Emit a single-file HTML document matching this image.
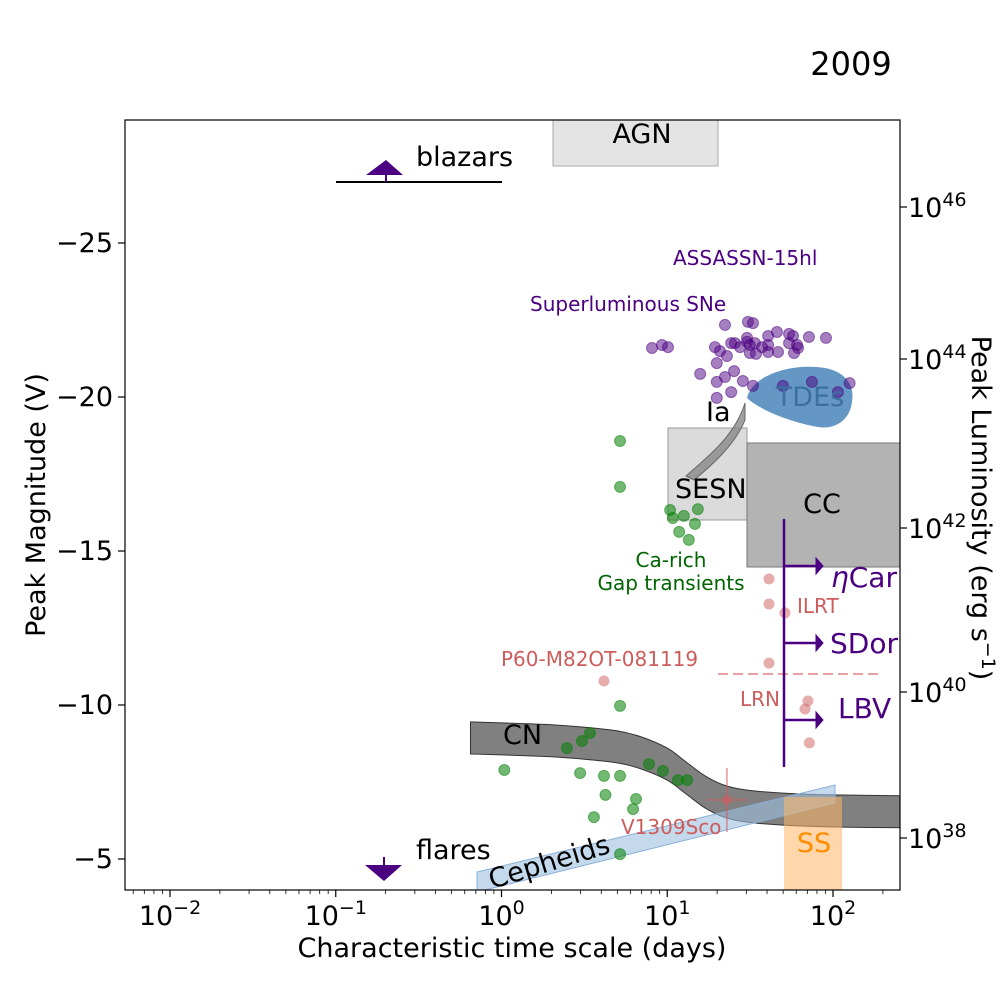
<!DOCTYPE html>
<html><head><meta charset="utf-8"><style>
html,body{margin:0;padding:0;background:#fff}
svg{display:block;font-family:"DejaVu Sans","Liberation Sans",sans-serif}
</style></head><body>
<svg id="chart" width="1000" height="1000" viewBox="0 0 1000 1000" xmlns="http://www.w3.org/2000/svg">
<text x="851" y="75" font-size="32" text-anchor="middle">2009</text>
<g id="plot"></g>
</svg>
<script>
// ---- data ----
const xTickVals = [-2,-1,0,1,2];
const yTickVals = [-25,-20,-15,-10,-5];
const lumTickExp = [46,44,42,40,38];
const lumTickY = [207,359,528,692,838];
const slsnT = [22.3,30.7,32.9,8.09,9.29,10.1,19.4,20.8,24.3,25.6,27.5,30.3,30.3,31.5,33.8,31.5,34.3,37.3,40.6,40.6,40.6,45.9,46.6,54.3,57.4,54.3,60.7,61.5,58.2,71.6,90.7,19.9,22.9,15.8,19.9,22.3,25.3,28.6,32.9,24.3,19.9,49.9,74.6,107,126];
const slsnM = [-22.34,-22.44,-22.40,-21.59,-21.69,-21.62,-21.62,-21.49,-21.75,-21.75,-21.62,-21.92,-21.79,-21.69,-21.75,-21.43,-21.40,-21.62,-21.98,-21.69,-21.46,-22.11,-21.46,-22.05,-21.98,-21.75,-21.69,-21.59,-21.43,-21.95,-21.92,-21.10,-21.33,-20.75,-20.49,-20.65,-20.84,-20.52,-20.36,-20.16,-19.97,-20.36,-20.49,-20.16,-20.45];
const gapT = [5.19,5.19,10.4,10.8,12.6,15.3,14.7,11.8,13.5,5.19,1.04,2.48,3.06,3.42,2.98,4.15,5.19,4.24,3.61,6.48,6.22,7.76,9.42,11.6,13.2,5.19];
const gapM = [-18.57,-17.08,-16.33,-16.07,-16.14,-16.36,-15.88,-15.62,-15.36,-9.97,-7.89,-8.60,-8.83,-9.09,-7.79,-7.70,-7.70,-7.08,-6.36,-6.95,-6.62,-8.08,-7.86,-7.56,-7.56,-5.16];
const ilrtT = [41.1,41.1,51.3,41.1,4.15,70.6,67.8,72];
const ilrtM = [-14.09,-13.28,-12.99,-11.36,-10.78,-10.13,-9.87,-8.77];
const cnT = [0.65,1,2,3,5,7,10,13,17,22,30,50,100,300];
const cnTopM = [-9.45,-9.42,-9.36,-9.29,-9.16,-8.96,-8.60,-8.15,-7.69,-7.40,-7.24,-7.14,-7.08,-7.05];
const cnBotM = [-8.41,-8.38,-8.32,-8.25,-8.12,-7.92,-7.56,-7.11,-6.65,-6.36,-6.20,-6.10,-6.04,-6.01];

// ---- axes ----
const X0=170, DEC=165.75;
const xs = t => X0 + (Math.log10(t)+2)*DEC;
const ys = m => 859 - (-5 - m)*30.8;
const L=125,R=900,T=120,B=890;
const NS='http://www.w3.org/2000/svg';
const plot=document.getElementById('plot');
const svg=document.getElementById('chart');
function mk(tag,attrs,parent){const e=document.createElementNS(NS,tag);for(const k in attrs)e.setAttribute(k,attrs[k]);(parent||plot).appendChild(e);return e;}
function txt(s,attrs,parent){const e=mk('text',attrs,parent);e.textContent=s;return e;}
function smooth(pts){let d='M'+pts[0][0].toFixed(1)+','+pts[0][1].toFixed(1);
for(let i=0;i<pts.length-1;i++){const p0=pts[Math.max(0,i-1)],p1=pts[i],p2=pts[i+1],p3=pts[Math.min(pts.length-1,i+2)];
const c1=[p1[0]+(p2[0]-p0[0])/6,p1[1]+(p2[1]-p0[1])/6],c2=[p2[0]-(p3[0]-p1[0])/6,p2[1]-(p3[1]-p1[1])/6];
d+=' C'+c1.map(v=>v.toFixed(1)).join(',')+' '+c2.map(v=>v.toFixed(1)).join(',')+' '+p2[0].toFixed(1)+','+p2[1].toFixed(1);}
return d;}
const clip=mk('clipPath',{id:'clp'},svg);mk('rect',{x:L,y:T,width:R-L,height:B-T},clip);
const g=mk('g',{'clip-path':'url(#clp)'});



let e;
e=mk('rect',{x:553,y:T-5,width:165,height:51,fill:'#d9d9d9','fill-opacity':'0.7',stroke:'#aaa'},g);

e=mk('rect',{x:668,y:428,width:79,height:92,fill:'#cfcfcf','fill-opacity':'0.75',stroke:'#999'},g);

e=mk('path',{d:'M686,476 C710,455 735,435 745,403 L745,420 C735,445 712,465 694,480 Z',fill:'#888',stroke:'#666','fill-opacity':'0.8'},g);

e=mk('rect',{x:747,y:443,width:160,height:124,fill:'#a6a6a6','fill-opacity':'0.85',stroke:'#777'},g);

e=mk('path',{d:'M747,398 C752,375 790,365 815,367 C845,368 855,385 852,402 C850,420 835,430 818,427 C790,422 760,410 747,398Z',fill:'#3a7ab3','fill-opacity':'0.78'},g);

const topPts=cnT.map((t,i)=>[xs(t),ys(cnTopM[i])]);
const botPts=cnT.map((t,i)=>[xs(t),ys(cnBotM[i])]).reverse();
let d=smooth(topPts)+' L'+smooth(botPts).slice(1)+' Z';
e=mk('path',{d:d,fill:'#555','fill-opacity':'0.75',stroke:'#333','stroke-linejoin':'round'},g);

e=mk('path',{d:'M477,872 L835,785 L835,803 L477,892 Z',fill:'#9dbfe0','fill-opacity':'0.6',stroke:'#8ab0d8'},g);

e=mk('rect',{x:784,y:797,width:58,height:100,fill:'#ffb766','fill-opacity':'0.55'},g);


slsnT.forEach((t,i)=>{const c=mk('circle',{cx:xs(t),cy:ys(slsnM[i]),r:5.5,fill:'#4b0082','fill-opacity':'0.5',stroke:'#4b0082','stroke-opacity':'0.5'},g);

});
gapT.forEach((t,i)=>{const c=mk('circle',{cx:xs(t),cy:ys(gapM[i]),r:5.5,fill:'#008000','fill-opacity':'0.55',stroke:'#008000','stroke-opacity':'0.5'},g);

});
ilrtT.forEach((t,i)=>{const c=mk('circle',{cx:xs(t),cy:ys(ilrtM[i]),r:5.5,fill:'#cd5c5c','fill-opacity':'0.5'},g);

});
e=mk('g',{},g);
mk('line',{x1:xs(22.9),x2:xs(22.9),y1:768,y2:832,stroke:'#cd5c5c','stroke-opacity':'0.5','stroke-width':2},e);
mk('line',{x1:706,x2:748,y1:ys(-6.92),y2:ys(-6.92),stroke:'#cd5c5c','stroke-opacity':'0.5','stroke-width':2},e);
mk('circle',{cx:xs(22.9),cy:ys(-6.92),r:5,fill:'#cd5c5c','fill-opacity':'0.6'},e);
e=mk('line',{x1:718,x2:882,y1:674,y2:674,stroke:'#e8a0a0','stroke-width':2,'stroke-dasharray':'10,5'},g);

e=mk('g',{stroke:'#4b0082','stroke-width':2.5,fill:'#4b0082'},g);
mk('line',{x1:784,x2:784,y1:519,y2:767},e);
[566,643,720].forEach(y=>{mk('line',{x1:784,x2:818,y1:y,y2:y},e);mk('path',{d:`M816,${y-8} L823,${y} L816,${y+8}Z`,'stroke-width':1},e);});
e=mk('g',{},g);
mk('line',{x1:336,x2:502,y1:182,y2:182,stroke:'#000','stroke-width':2},e);
mk('line',{x1:386,x2:386,y1:172,y2:182,stroke:'#4b0082','stroke-width':2},e);
mk('path',{d:'M366,175 L386,160 L403,175Z',fill:'#4b0082'},e);
e=mk('g',{},g);
mk('line',{x1:384,x2:384,y1:857,y2:867,stroke:'#4b0082','stroke-width':2},e);
mk('path',{d:'M365,865 L402,865 L384,881Z',fill:'#4b0082'},e);

const labels=[
['AGN',642,143,27,'#000','middle','agn-label'],
['blazars',416,166,27,'#000','start','blazars-label'],
['ASSASSN-15hl',673,265,20,'#4b0082','start','assassn-label'],
['Superluminous SNe',530,311,20,'#4b0082','start','slsn-label'],
['Ia',706,421,27,'#000','start','ia-label'],
['TDEs',810,406,27,'#3a6fa0','middle','tde-label'],
['SESN',675,498,27,'#000','start','sesn-label'],
['CC',822,513,27,'#000','middle','cc-label'],
['Ca-rich',671,567,20,'#006400','middle','ca-rich-label'],
['Gap transients',671,590,20,'#006400','middle','gap-transients-label'],
['SDor',830,653,28,'#4b0082','start','sdor-label'],
['P60-M82OT-081119',501,666,20,'#cd5c5c','start','p60-label'],
['ILRT',797,613,20,'#cd5c5c','start','ilrt-label'],
['LRN',740,706,20,'#cd5c5c','start','lrn-label'],
['LBV',838,718,28,'#4b0082','start','lbv-label'],
['CN',503,744,27,'#000','start','cn-label'],
['V1309Sco',621,834,20,'#cd5c5c','start','v1309sco-label'],
['SS',814,852,27,'#ff8c00','middle','ss-label'],
['flares',416,859,27,'#000','start','flares-label']];
labels.forEach(l=>{const t=txt(l[0],{x:l[1],y:l[2],'font-size':l[3],fill:l[4],'text-anchor':l[5]});

});
e=txt('',{x:831,y:587,'font-size':28,fill:'#4b0082'});

e.innerHTML='<tspan font-style="italic">η</tspan>Car';
e=txt('Cepheids',{x:0,y:0,'font-size':27,fill:'#000',transform:'translate(492,889) rotate(-17)'});


e=mk('rect',{x:L,y:T,width:R-L,height:B-T,fill:'none',stroke:'#000','stroke-width':1.2});

xTickVals.forEach(p=>{const x=xs(Math.pow(10,p));mk('line',{x1:x,x2:x,y1:B,y2:B+7,stroke:'#000','stroke-width':1.2});
const t=txt('',{x:x,y:B+35,'font-size':27,'text-anchor':'middle'});


t.innerHTML='10<tspan dy="-11" font-size="19">'+(p<0?'\u2212'+(-p):p)+'</tspan>';});
for(let p=-3;p<=2;p++)for(let k=2;k<10;k++){const x=xs(k*Math.pow(10,p));if(x>L&&x<R)mk('line',{x1:x,x2:x,y1:B,y2:B+4,stroke:'#000','stroke-width':0.8});}
yTickVals.forEach(v=>{const y=ys(v);mk('line',{x1:L-7,x2:L,y1:y,y2:y,stroke:'#000','stroke-width':1.2});
const t=txt('\u2212'+(-v),{x:L-12,y:y+9,'font-size':27,'text-anchor':'end'});

});
lumTickExp.forEach((p,i)=>{const y=lumTickY[i];mk('line',{x1:R,x2:R+7,y1:y,y2:y,stroke:'#000','stroke-width':1.2});
const t=txt('',{x:R+8,y:y+10,'font-size':27});


t.innerHTML='10<tspan dy="-11" font-size="19">'+p+'</tspan>';});
e=txt('Characteristic time scale (days)',{x:512,y:957,'font-size':27,'text-anchor':'middle'});

e=txt('Peak Magnitude (V)',{x:0,y:0,'font-size':27,'text-anchor':'middle',transform:'translate(45,505) rotate(-90)'});

e=txt('',{x:0,y:0,'font-size':27,'text-anchor':'middle',transform:'translate(972,508) rotate(90)'});

e.innerHTML='Peak Luminosity (erg s<tspan dy="-10" font-size="19">\u22121</tspan><tspan dy="10">)</tspan>';
</script>
</body></html>
